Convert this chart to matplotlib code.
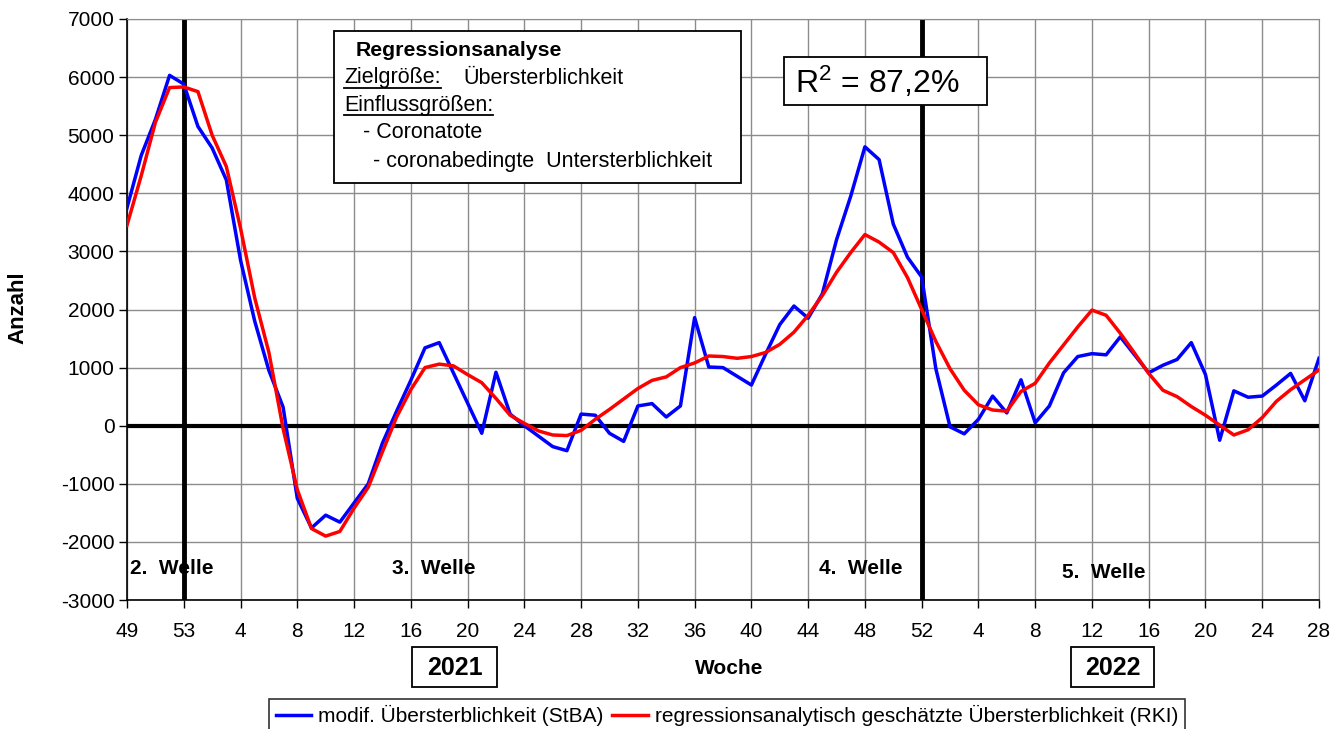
import numpy as np
import matplotlib
matplotlib.use("Agg")
import matplotlib.pyplot as plt
from matplotlib.patches import Rectangle
from matplotlib.lines import Line2D

plt.rcParams['font.family'] = ['Liberation Sans', 'DejaVu Sans']
plt.rcParams['mathtext.fontset'] = 'custom'
plt.rcParams['mathtext.rm'] = 'Liberation Sans'
plt.rcParams['axes.unicode_minus'] = False

# weekly values, KW 49/2020 .. KW 28/2022
stba = [3750, 4650, 5270, 6030, 5880, 5150, 4780, 4230, 2850, 1800,
        950, 320, -1250, -1760, -1540, -1660, -1330, -1000, -300, 250,
        780, 1340, 1430, 910, 390, -130, 920, 200, 0, -180,
        -360, -430, 200, 180, -130, -270, 340, 380, 150, 340,
        1860, 1010, 1000, 850, 700, 1230, 1740, 2060, 1850, 2270,
        3200, 3950, 4800, 4580, 3470, 2900, 2560, 980, -20, -140,
        110, 510, 220, 790, 50, 340, 910, 1190, 1240, 1220,
        1530, 1220, 910, 1040, 1140, 1430, 880, -250, 600, 490,
        510, 700, 900, 430, 1160]
rki = [3450, 4300, 5220, 5820, 5830, 5750, 5000, 4460, 3400, 2200,
       1260, -50, -1100, -1770, -1900, -1820, -1420, -1060, -450, 150,
       620, 1000, 1060, 1030, 880, 740, 470, 180, 40, -90,
       -160, -170, -80, 110, 280, 460, 640, 780, 840, 1000,
       1080, 1200, 1190, 1160, 1190, 1260, 1400, 1610, 1900, 2240,
       2640, 2980, 3290, 3160, 2980, 2550, 2000, 1450, 980, 610,
       360, 270, 250, 590, 730, 1080, 1390, 1700, 1990, 1900,
       1590, 1250, 900, 610, 500, 330, 180, 10, -160, -70,
       140, 420, 620, 790, 960]
tick_labels = ['49', '53', '4', '8', '12', '16', '20', '24', '28', '32', '36',
               '40', '44', '48', '52', '4', '8', '12', '16', '20', '24', '28']
year_breaks = [4, 56]   # KW 53/2020 and KW 52/2021
waves = [('2.  Welle', 0.2, -2450, 'left'), ('3.  Welle', 21.6, -2450, 'center'),
         ('4.  Welle', 51.7, -2450, 'center'), ('5.  Welle', 68.8, -2520, 'center')]

W, H = 1343, 729
fig = plt.figure(figsize=(W / 100, H / 100), dpi=100)
ax = fig.add_axes([127 / W, 1 - 600 / H, (1319 - 127) / W, (600 - 19) / H])

def px(x, y):
    return x / W, 1 - y / H

def box(x0, y0, x1, y1):
    fig.patches.append(Rectangle(px(x0, y1), (x1 - x0) / W, (y1 - y0) / H,
                                 transform=fig.transFigure, fc='white', ec='black',
                                 lw=1.3, zorder=6))

x = np.arange(len(stba))
ax.set_xlim(0, len(stba) - 1)
ax.set_ylim(-3000, 7000)
ax.set_xticks(np.arange(0, len(stba), 4))
ax.set_xticklabels(tick_labels)
ax.set_yticks(np.arange(-3000, 7001, 1000))
ax.tick_params(labelsize=15, length=6, width=1, direction='out')
ax.tick_params(axis='x', pad=10)
ax.tick_params(axis='y', pad=3)
ax.grid(True, color='#8c8c8c', linewidth=1.0)
ax.set_axisbelow(True)
for s in ['top', 'right']:
    ax.spines[s].set_color('#8c8c8c')
for s in ['left', 'bottom']:
    ax.spines[s].set_linewidth(1.2)

ax.axhline(0, color='black', linewidth=3, zorder=2)
for b in year_breaks:
    ax.axvline(b, color='black', linewidth=3.5, zorder=2)

ax.plot(x, stba, color='#0000ff', linewidth=2.5, zorder=3,
        label='modif. Übersterblichkeit (StBA)')
ax.plot(x, rki, color='#ff0000', linewidth=2.5, zorder=4,
        label='regressionsanalytisch geschätzte Übersterblichkeit (RKI)')

for txt, wx, wy, ha in waves:
    ax.text(wx, wy, txt, fontsize=15, fontweight='bold', ha=ha, va='center', zorder=5)

fig.text(*px(18, 308), 'Anzahl', rotation=90, fontsize=16, fontweight='bold',
         ha='center', va='center')
fig.text(*px(729, 669), 'Woche', fontsize=15, fontweight='bold', ha='center', va='center')
for yr, x0, x1 in [('2021', 412, 497), ('2022', 1071, 1154)]:
    box(x0, 647, x1, 687)
    fig.text(*px((x0 + x1) / 2, 668), yr, fontsize=18, fontweight='bold',
             ha='center', va='center', zorder=7)

# annotation boxes
box(334, 31, 741, 183)
box(784, 57, 987, 105)
fig.text(*px(877, 82), r'$\mathregular{R^2}$ = 87,2%', fontsize=23,
         ha='center', va='center', zorder=7)

fs = 15.5
fig.text(*px(356, 50), 'Regressionsanalyse', fontsize=15.3, fontweight='bold',
         va='center', zorder=7)
t1 = fig.text(*px(344, 78), 'Zielgröße:', fontsize=fs, va='center', zorder=7)
fig.text(*px(463, 78), 'Übersterblichkeit', fontsize=fs, va='center', zorder=7)
t2 = fig.text(*px(344, 105), 'Einflussgrößen:', fontsize=fs, va='center', zorder=7)
fig.text(*px(363, 132), '- Coronatote', fontsize=fs, va='center', zorder=7)
fig.text(*px(373, 161), '- coronabedingte  Untersterblichkeit', fontsize=fs,
         va='center', zorder=7)

leg = fig.legend(loc='upper center', bbox_to_anchor=px(727, 699), ncol=2,
                 fontsize=15, frameon=True, fancybox=False, edgecolor='black',
                 handlelength=1.7, handletextpad=0.35, columnspacing=0.4,
                 borderpad=0.3, borderaxespad=0)
leg.get_frame().set_linewidth(1.2)

# underline the two headings
fig.canvas.draw()
r = fig.canvas.get_renderer()
for t in (t1, t2):
    bb = t.get_window_extent(r)
    yl = bb.y0 + 1
    fig.lines.append(Line2D([bb.x0 / W, bb.x1 / W], [yl / H, yl / H],
                            transform=fig.transFigure, color='black', lw=1.3, zorder=8))

fig.savefig('out.png', dpi=100)
